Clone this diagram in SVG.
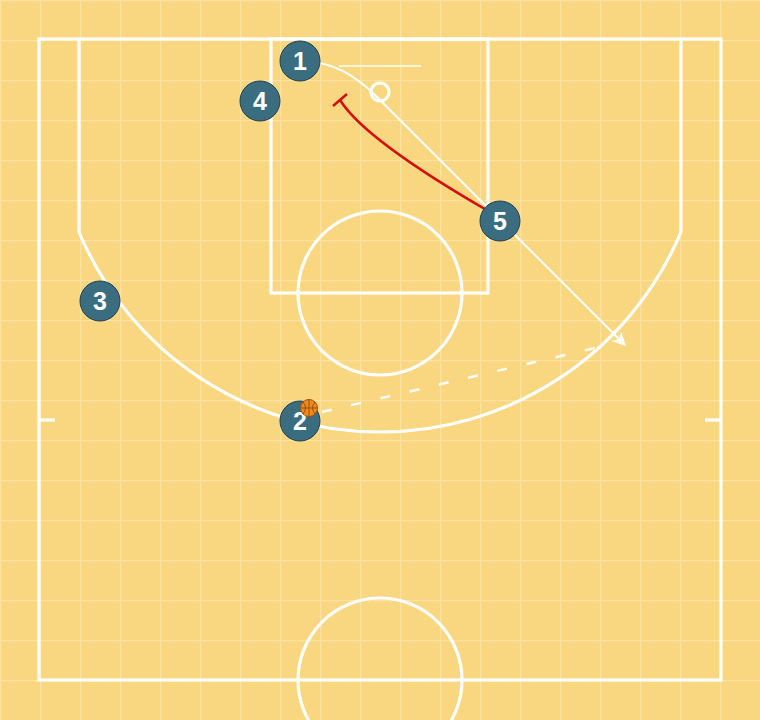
<svg xmlns="http://www.w3.org/2000/svg" width="760" height="720" viewBox="0 0 760 720">
<defs>
<pattern id="grid" x="0" y="0" width="40" height="40" patternUnits="userSpaceOnUse">
<path d="M0,0 H40 M0,0 V40" fill="none" stroke="#fde3a0" stroke-width="2.5"/>
</pattern>
<marker id="arrow" viewBox="0 0 10 10" refX="8" refY="5" markerWidth="7" markerHeight="7" orient="auto" markerUnits="strokeWidth">
<path d="M0,0 L10,5 L0,10 L3,5 Z" fill="#ffffff"/>
</marker>
<style>
.court{fill:none;stroke:#ffffff;stroke-width:3.2}
.player circle{fill:#3b6d80;stroke:#23414d;stroke-width:1}
.player text{fill:#ffffff;font-family:"Liberation Sans",Arial,sans-serif;font-weight:bold;font-size:25px;text-anchor:middle}
.move{fill:none;stroke:#ffffff;stroke-width:2}
.screen{fill:none;stroke:#d40f0f;stroke-width:2.5}
.pass{fill:none;stroke:#ffffff;stroke-width:2.5;stroke-dasharray:10 20}
</style>
</defs>
<rect x="0" y="0" width="760" height="720" fill="#f9d680"/>
<rect x="0" y="0" width="760" height="720" fill="url(#grid)"/>
<g id="court">
<rect class="court" x="39" y="39" width="682" height="641"/>
<rect class="court" x="271" y="39" width="217" height="254"/>
<circle class="court" cx="380" cy="293" r="82"/>
<circle class="court" cx="380" cy="680" r="82"/>
<path class="court" d="M79,39 V232 A326.5,326.5 0 0 0 681,232 V39"/>
<line class="court" x1="39" y1="420" x2="55" y2="420"/>
<line class="court" x1="705" y1="420" x2="721" y2="420"/>
<line x1="339" y1="66" x2="421" y2="66" stroke="#fff5d8" stroke-width="2"/>
<circle class="court" cx="380" cy="92" r="9"/>
</g>
<g id="connectors">
<path class="move" d="M319,63 Q350,68 382,102 L624,344" marker-end="url(#arrow)"/>
<path class="screen" d="M340,100 Q365,140 490,212"/>
<line class="screen" x1="333" y1="106" x2="347" y2="94"/>
<line class="pass" x1="322" y1="412" x2="612" y2="344"/>
</g>
<g id="player1" class="player"><circle cx="300" cy="61" r="20"/><text x="300" y="70">1</text></g>
<g id="player4" class="player"><circle cx="260" cy="101" r="20"/><text x="260" y="110">4</text></g>
<g id="player3" class="player"><circle cx="100" cy="301" r="20"/><text x="100" y="310">3</text></g>
<g id="player5" class="player"><circle cx="500" cy="221" r="20"/><text x="500" y="230">5</text></g>
<g id="player2" class="player"><circle cx="300" cy="421" r="20"/><text x="300" y="430">2</text></g>
<g id="ball">
<circle cx="309" cy="408" r="8.5" fill="#ec8a1c" stroke="#a8520c" stroke-width="1"/>
<path d="M300.5,408 H317.5 M309,399.5 V416.5 M303,402 Q308,408 303,414 M315,402 Q310,408 315,414" fill="none" stroke="#8a430a" stroke-width="0.8"/>
</g>
</svg>
